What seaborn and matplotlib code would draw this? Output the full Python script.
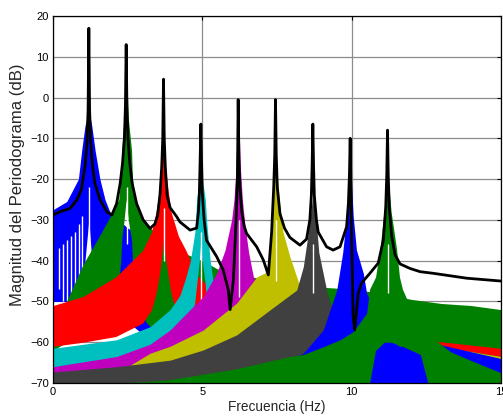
import numpy as np
import pandas as pd
import matplotlib
matplotlib.use("Agg")
import matplotlib.pyplot as plt
import seaborn as sns

# ---------------- data ----------------
# series 1 (blue, peak ~1.2 Hz)
s1_f = [0, 0.46, 0.85, 0.96, 1.07, 1.2, 1.3, 1.41, 1.57, 1.74, 1.9, 2.5, 3.0, 3.5, 4.0, 5.0, 7.0, 10.0, 15.0]
s1_up = [-27.5, -25.5, -20, -13, -7, -3, -7, -13, -20, -25, -28, -32, -34, -37, -40, -44, -48, -52, -55]
s1_lo = [-50, -50, -49, -47, -40, -30, -40, -47, -50, -51, -52, -55, -58, -60, -62, -65, -68, -70, -70]

# series 2 (green, peak ~2.45 Hz)
s2_f = [0, 0.45, 1.0, 1.55, 2.0, 2.2, 2.27, 2.3, 2.38, 2.45, 2.52, 2.63, 2.66, 2.75, 2.9, 3.1, 3.5, 4.0,
        4.5, 5.0, 5.5, 6.0, 7.0, 8.0, 9.0, 10.0, 11.0, 12.0, 13.0, 14.0, 15.0]
s2_up = [-53, -50, -41, -34, -28, -25, -20, -13, -5, 10, -5, -13, -20, -25, -28, -31, -33.5, -36,
         -38.5, -40, -42, -43, -44.5, -46, -46.5, -47, -48, -49.5, -50.5, -51, -52]
s2_lo = [-62, -60, -58, -55, -50, -45, -40, -35, -30, -25, -30, -35, -40, -45, -50, -55, -58, -60,
         -62, -64, -65, -66, -67, -68, -69, -70, -70, -70, -70, -70, -70]

# series 3 (red, peak ~3.7 Hz)
s3_f = [0, 1.0, 2.1, 3.0, 3.3, 3.45, 3.55, 3.62, 3.7, 3.78, 3.86, 3.95, 4.2, 4.45, 4.6, 4.75, 5.0, 6.0,
        7.0, 8.0, 9.0, 10.0, 11.0, 12.0, 13.0, 14.0, 15.0]
s3_up = [-51, -48.8, -44, -37.5, -33, -28, -23, -18, -8, -18, -23, -28, -34, -37.5, -40, -43, -45, -49,
         -51.5, -53.5, -55.5, -57, -58, -59, -59.9, -60.7, -61.5]
s3_lo = [-61, -60, -58.6, -55.3, -52, -48, -44, -40, -35, -40, -44, -48, -55, -58, -60, -61, -62, -63,
         -63, -62, -62, -61.5, -61.5, -61.2, -61.2, -62.3, -63.5]

# series 4 (cyan, peak ~4.95 Hz)
s4_f = [0, 2.13, 3.25, 3.92, 4.25, 4.45, 4.6, 4.75, 4.81, 4.9, 4.95, 5.0, 5.1, 5.14, 5.26, 5.37, 5.5,
        6.0, 7.0, 8.0, 10.0, 12.0, 15.0]
s4_up = [-61.5, -59.4, -56.2, -52, -48.5, -44, -40, -33, -25, -20, -12, -20, -25, -30, -39.8, -45.5, -48,
         -52, -55, -58, -61, -63, -65]
s4_lo = [-68, -67, -66, -64, -62, -60, -56, -50, -46, -40, -35, -40, -46, -50, -58, -62, -64,
         -66, -68, -70, -70, -70, -70]

# series 5 (magenta, peak ~6.2 Hz)
s5_f = [0, 2.13, 3.25, 3.92, 4.59, 5.03, 5.48, 5.76, 5.98, 6.06, 6.12, 6.2, 6.28, 6.34, 6.42, 6.55, 6.71,
        7.0, 8.0, 10.0, 12.0, 15.0]
s5_up = [-66, -63.5, -60.5, -57, -52, -48.8, -43.1, -37.4, -30, -25, -18, -1, -18, -25, -31, -38, -44,
         -48, -53, -58, -61, -64]
s5_lo = [-70] * len(s5_f)

# series 6 (olive, peak ~7.45 Hz)
s6_f = [0, 2.5, 3.25, 3.92, 5.03, 6.15, 6.82, 7.1, 7.22, 7.3, 7.38, 7.45, 7.52, 7.6, 7.7, 7.93, 8.27,
        9.0, 10.0, 12.0, 13.0, 14.0, 15.0]
s6_up = [-69, -66, -62.7, -61, -57, -50.4, -44, -43, -40, -30, -22, -16, -20, -27, -33, -39, -46.4,
         -52, -55.5, -59.5, -61.2, -62.3, -63.5]
s6_lo = [-70] * len(s6_f)

# series 7 (dark grey, peak ~8.7 Hz)
s7_f = [0, 2.13, 3.92, 5.03, 6.15, 7.26, 8.16, 8.38, 8.55, 8.65, 8.7, 8.75, 8.82, 8.9, 9.16, 9.38, 10.0,
        12.0, 15.0]
s7_up = [-67.3, -66, -64.4, -61.9, -58.2, -52.1, -47.2, -41.5, -33, -27, -24, -27, -31, -38, -47.2, -52.9,
         -58, -63, -66]
s7_lo = [-70] * len(s7_f)

# series 8 (blue, peak ~9.95 Hz)
s8_f = [0, 5.0, 7.0, 8.38, 9.05, 9.5, 9.7, 9.83, 9.9, 9.95, 10.0, 10.05, 10.16, 10.39, 10.5, 10.7, 11.0,
        12.0, 15.0]
s8_up = [-72, -70, -67, -62.7, -57, -47.2, -38, -29, -22, -10, -22, -29, -37.4, -43.1, -48, -51, -55,
         -59, -64]
s8_lo = [-70] * len(s8_f)

# series 9 (green, peak ~11.2 Hz)
s9_f = [0, 3.8, 6.15, 7.93, 8.38, 9.05, 9.61, 10.05, 10.5, 10.6, 10.8, 10.95, 11.08, 11.15, 11.2, 11.25,
        11.32, 11.5, 11.6, 11.7, 12.0, 12.3, 12.55, 12.9, 13.3, 14.0, 15.0]
s9_up = [-71, -69.3, -66.5, -63.5, -63, -61.1, -59.4, -57.4, -52.9, -47, -44, -37, -28, -22, -19, -22,
         -28, -37, -44, -47, -52, -55, -57.5, -60, -62.3, -64.5, -67.5]
s9_lo = [-70, -70, -70, -70, -70, -70, -70, -70, -70, -70, -62, -61, -60, -60, -60, -60,
         -60, -60.5, -61, -61, -62, -63, -70, -70, -70, -70, -70]

# white gaps (spectral nulls) seen inside the coloured areas
null_series = [1, 2, 3, 4, 5, 6, 7, 9, 1, 1, 1, 1, 1, 1, 1]
null_f = [1.22, 2.47, 3.72, 4.97, 6.22, 7.47, 8.72, 11.22, 0.2, 0.33, 0.47, 0.6, 0.73, 0.86, 0.98]
null_top = [-22, -22, -27, -33, -30, -30, -36, -36, -37, -36, -35, -34, -33, -31, -29]
null_bot = [-48, -36, -40, -51, -49, -45, -48, -48, -47, -50, -50, -50, -50, -50, -48]

# combined periodogram (black)
blk_f = [0, 0.23, 0.57, 0.8, 0.95, 1.08, 1.14, 1.175, 1.2, 1.225, 1.26, 1.32, 1.4, 1.57, 1.8, 1.97,
         2.13, 2.25, 2.33, 2.39, 2.425, 2.45, 2.475, 2.51, 2.57, 2.65, 2.8, 3.02, 3.25, 3.41,
         3.5, 3.58, 3.64, 3.675, 3.7, 3.725, 3.76, 3.82, 3.92, 4.14, 4.25, 4.59, 4.81,
         4.87, 4.9, 4.925, 4.95, 4.975, 5.0, 5.06, 5.14, 5.48, 5.7, 5.87, 5.93,
         6.04, 6.13, 6.175, 6.2, 6.225, 6.26, 6.32, 6.4, 6.48, 6.82, 7.04, 7.21,
         7.32, 7.39, 7.425, 7.45, 7.475, 7.51, 7.6, 7.75, 7.93, 8.27, 8.49,
         8.6, 8.65, 8.675, 8.7, 8.725, 8.75, 8.82, 8.88, 9.16, 9.38, 9.61, 9.83,
         9.89, 9.925, 9.95, 9.975, 10.0, 10.05, 10.1, 10.22, 10.33, 10.61, 10.89,
         11.06, 11.14, 11.175, 11.2, 11.225, 11.26, 11.34, 11.45, 11.62, 11.95, 12.29, 12.73, 13.85, 15.0]
blk_db = [-28.8, -28, -27.2, -25.1, -22.5, -16.5, -10.5, -3, 17, -3, -10.5, -16.5, -21, -25, -28, -28.8,
          -26, -21, -16, -10, -2, 13, -2, -10, -16, -21, -26, -30, -32.1, -31,
          -29, -24, -17, -10, 4.5, -10, -17, -24, -27, -29.2, -30.5, -32.5, -32,
          -28, -23.5, -16, -6.5, -16, -23.5, -30, -35, -39, -42.3, -47.2, -52,
          -44.7, -30, -20, -0.5, -15, -22, -28, -31.5, -33.3, -36.6, -39.8, -43.5,
          -33, -22, -14, -0.5, -14, -22, -28.5, -32, -34.3, -36.2, -34.7,
          -30, -24, -17, -6.5, -17, -24, -30, -33, -36.6, -37.4, -36.6, -31.7,
          -26, -19, -10, -22, -35, -53.7, -57, -48, -45.5, -43.1, -40.6,
          -35, -27, -19, -8, -19, -27, -34, -38.5, -40.8, -41.9, -42.7, -43.1, -44.3, -45]

x_ticks = [0, 5, 10, 15]
y_ticks = [-70, -60, -50, -40, -30, -20, -10, 0, 10, 20]

series = [
    (s1_f, s1_up, s1_lo, (0, 0, 1)),
    (s2_f, s2_up, s2_lo, (0, 0.5, 0)),
    (s3_f, s3_up, s3_lo, (1, 0, 0)),
    (s4_f, s4_up, s4_lo, (0, 0.75, 0.75)),
    (s5_f, s5_up, s5_lo, (0.75, 0, 0.75)),
    (s6_f, s6_up, s6_lo, (0.75, 0.75, 0)),
    (s7_f, s7_up, s7_lo, (0.25, 0.25, 0.25)),
    (s8_f, s8_up, s8_lo, (0, 0, 1)),
    (s9_f, s9_up, s9_lo, (0, 0.5, 0)),
]

# ---------------- plot ----------------
sns.set_style("white")
plt.rcParams['font.family'] = ['Liberation Sans', 'DejaVu Sans']

fig = plt.figure(figsize=(5.03, 4.16), dpi=100)
ax = fig.add_axes([53 / 503, 33 / 416, 448 / 503, 367 / 416])

for i, (f, up, lo, col) in enumerate(series):
    z = 2 + i * 0.1
    ax.fill_between(f, lo, up, color=col, lw=0, zorder=z)
    for sidx, nf, nt, nb in zip(null_series, null_f, null_top, null_bot):
        if sidx == i + 1:
            ax.vlines(nf, nb, nt, colors="white", lw=1.0, zorder=z + 0.05)

df = pd.DataFrame({"Frecuencia": blk_f, "dB": blk_db})
sns.lineplot(data=df, x="Frecuencia", y="dB", color="black", lw=2.0, sort=False,
             ax=ax, zorder=4)

ax.set_xlim(0, 15)
ax.set_ylim(-70, 20)
ax.set_xticks(x_ticks)
ax.set_yticks(y_ticks)
ax.set_axisbelow(True)
ax.grid(True, color="#8c8c8c", lw=0.9)
ax.tick_params(direction="in", length=3, width=0.8, top=True, right=True,
               labelsize=8, pad=3, colors="black")
for s in ax.spines.values():
    s.set_color("black")
    s.set_linewidth(0.9)
    s.set_zorder(5)

ax.set_xlabel("Frecuencia (Hz)", fontsize=9.8, labelpad=2)
ax.set_ylabel("Magnitud del Periodograma (dB)", fontsize=12)
ax.yaxis.set_label_coords(-0.062, 0.54)

fig.savefig("out.png", dpi=100)
